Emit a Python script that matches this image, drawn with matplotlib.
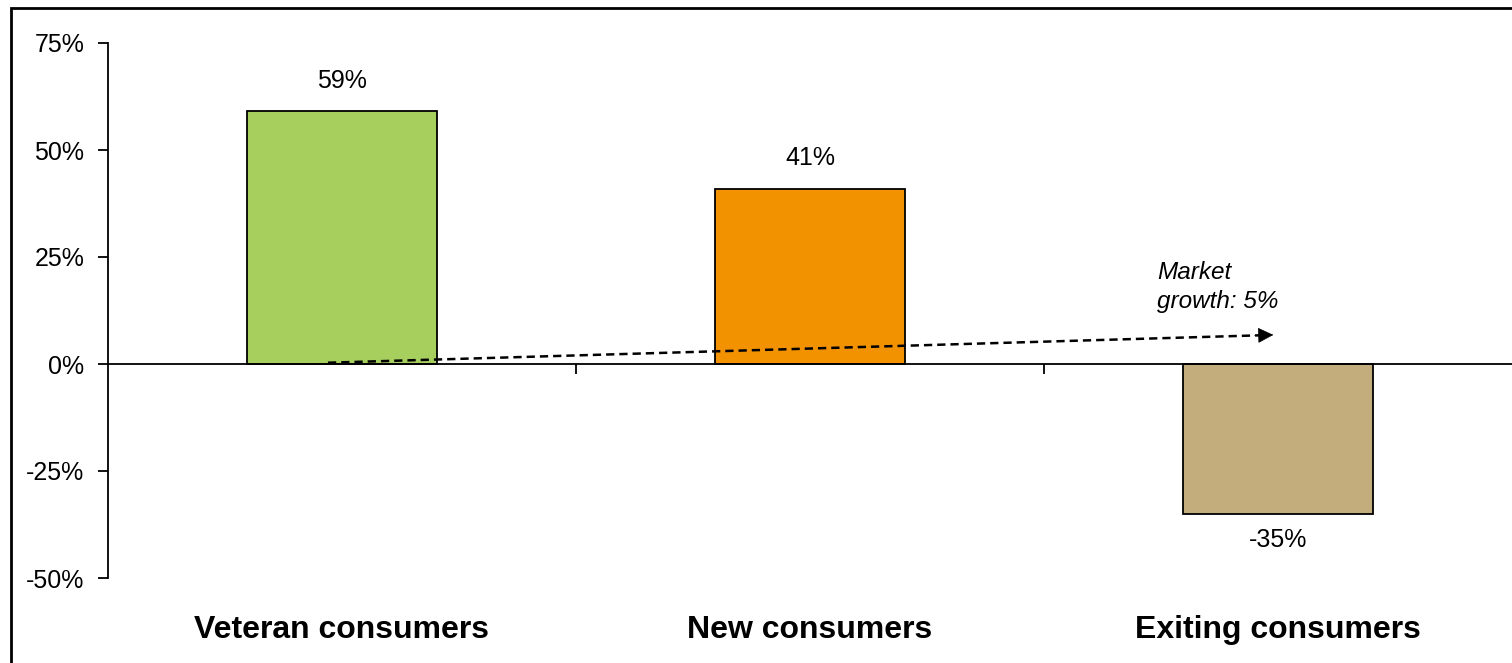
import matplotlib.pyplot as plt
import matplotlib.patches as patches
from matplotlib.ticker import FuncFormatter

plt.rcParams['font.family'] = ['Liberation Sans', 'DejaVu Sans']

categories = ['Veteran consumers', 'New consumers', 'Exiting consumers']
shares = [59, 41, -35]
colors = ['#A6CF5E', '#F39200', '#C4AD7C']
growth_label = 'Market\ngrowth: 5%'
arrow_start = (-0.03, 0.3)
arrow_end = (1.99, 6.8)


def main():
    fig = plt.figure(figsize=(15.12, 6.63), dpi=100)
    ax = fig.add_axes([108 / 1512, 1 - 578 / 663, 1 - 108 / 1512, (578 - 43) / 663])

    x = list(range(len(categories)))
    ax.bar(x, shares, width=0.404, color=colors, edgecolor='black', linewidth=1.3, zorder=2)

    for xi, v in zip(x, shares):
        if v >= 0:
            ax.annotate(f'{v}%', (xi, v), xytext=(0, 13), textcoords='offset points',
                        ha='center', va='bottom', fontsize=18)
        else:
            ax.annotate(f'{v}%', (xi, v), xytext=(0, -10), textcoords='offset points',
                        ha='center', va='top', fontsize=18)

    ax.set_xlim(-0.5, 2.5)
    ax.set_ylim(-50, 75)
    ax.set_yticks([-50, -25, 0, 25, 50, 75])
    ax.yaxis.set_major_formatter(FuncFormatter(lambda v, p: f'{v:.0f}%'))
    ax.tick_params(axis='y', labelsize=18, length=7, width=1.3, pad=10)

    ax.spines['top'].set_visible(False)
    ax.spines['right'].set_visible(False)
    ax.spines['bottom'].set_position(('data', 0))
    ax.spines['bottom'].set_linewidth(1.3)
    ax.spines['left'].set_linewidth(1.3)
    ax.set_xticks([0.5, 1.5])
    ax.set_xticklabels([])
    ax.tick_params(axis='x', length=7, width=1.3, direction='out')

    for xi, name in zip(x, categories):
        ax.text(xi, -0.098, name, transform=ax.get_xaxis_transform(),
                ha='center', va='center', fontsize=23, fontweight='bold')

    # dashed growth arrow
    ax.plot([arrow_start[0], arrow_end[0] - 0.03],
            [arrow_start[1], arrow_end[1] - 0.1],
            color='black', linewidth=1.8, dashes=[3.3, 2.0], zorder=3)
    ax.annotate('', xy=arrow_end, xytext=(arrow_end[0] - 0.04, arrow_end[1] - 0.14),
                arrowprops=dict(arrowstyle='-|>,head_length=1.0,head_width=0.5',
                                color='black', lw=0.5, shrinkA=0, shrinkB=0), zorder=3)
    ax.text(1.741, 13.1, growth_label, ha='left', va='baseline',
            fontsize=17.5, style='italic', linespacing=1.35)

    # outer frame
    fig.patches.append(patches.Rectangle((11 / 1512, -0.02), 1.05, 1 - 8 / 663 + 0.02,
                                         transform=fig.transFigure, fill=False,
                                         edgecolor='black', linewidth=2))

    fig.savefig('out.png', dpi=100)


if __name__ == '__main__':
    main()
